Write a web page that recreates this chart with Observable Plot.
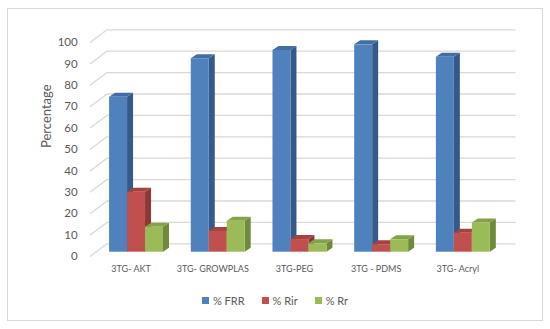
<!DOCTYPE html>
<html><head><meta charset="utf-8">
<script src="https://cdn.jsdelivr.net/npm/d3@7"></script>
<script src="https://cdn.jsdelivr.net/npm/@observablehq/plot@0.6"></script>
<style>
body{margin:0;background:#fff;font-family:Lato, sans-serif;}
#wrap{position:relative;width:550px;height:329px;overflow:hidden;background:#fff}
#frame{position:absolute;left:7px;top:8px;width:536px;height:313px;border:1.5px solid #d9d9d9;box-sizing:border-box;pointer-events:none}
#legend{display:flex;justify-content:center;align-items:center;height:30px;gap:17px;font-size:11px;color:#595959;font-family:Lato, sans-serif}
#legend span.item{display:inline-flex;align-items:center}
.sw{display:inline-block;width:7px;height:7px;margin-right:4px}
</style></head><body>
<div id="wrap"><div id="chart"></div><div id="legend"></div><div id="frame"></div></div>
<script>
const categories = ["3TG- AKT", "3TG- GROWPLAS", "3TG-PEG", "3TG - PDMS", "3TG- Acryl"];
const seriesNames = ["% FRR", "% Rir", "% Rr"];
const frrValues = [72.4, 90.4, 94.3, 96.9, 91.1];
const rirValues = [28.0, 9.7, 5.9, 3.5, 8.9];
const rrValues = [11.7, 14.5, 3.9, 5.8, 13.6];
const yTicks = [0, 10, 20, 30, 40, 50, 60, 70, 80, 90, 100];
const frontColors = ["#4f81bd", "#c0504d", "#9bbb59"];
const sideColors = ["#34598a", "#8c3836", "#6f8a3c"];
const topColors = ["#426ea6", "#a8413e", "#83a249"];

const seriesValues = [frrValues, rirValues, rrValues];
const rows = [];
categories.forEach((c, i) => seriesNames.forEach((s, j) =>
  rows.push({category: c, series: s, ci: i, sj: j, value: seriesValues[j][i]})));

const GROUP_PAD = 0.17, BAR_W = 0.22;
const barLeft = d => d.ci + GROUP_PAD + BAR_W * d.sj;
const barRight = d => barLeft(d) + BAR_W;
const DEPTH_X = 6, DEPTH_Y = 4;       // bar depth (px)
const WALL_X = 17, WALL_Y = 12.7;     // front axis to back wall (px)
const GRID = "#d9d9d9", TEXT = "#595959";

const bars = (fills, label) => Plot.rect(rows, {
  x1: barLeft, x2: barRight, y1: 0, y2: "value",
  fill: d => fills[d.sj], ariaDescription: label
});

const chart = Plot.plot({
  width: 550, height: 285,
  marginLeft: 95.2, marginRight: 46.3, marginTop: 37.7, marginBottom: 33.3,
  x: {type: "linear", domain: [0, categories.length], axis: null},
  y: {domain: [0, 100], axis: null},
  color: {type: "identity"},
  style: {fontFamily: "Lato, sans-serif", background: "transparent", overflow: "visible"},
  marks: [
    Plot.ruleY(yTicks, {stroke: GRID, strokeWidth: 1.3, dx: 11.8, dy: -8.4, ariaDescription: "wall"}),
    Plot.ruleY(yTicks, {x1: 0, x2: 0, insetLeft: -5.2, insetRight: -11.8, dy: 4.3,
      stroke: GRID, strokeWidth: 1.3, ariaDescription: "depth-tick"}),
    bars(sideColors, "side"),
    bars(topColors, "top"),
    bars(frontColors, "front"),
    Plot.text(yTicks, {x: 0, y: d => d, dx: -18, dy: 4.3, textAnchor: "end",
      fontSize: 11.5, fill: TEXT}),
    Plot.text(categories, {x: (d, i) => i + 0.5, y: 0, dx: -5.5, dy: 16.5,
      fontSize: 9, fill: TEXT}),
    Plot.text(["Percentage"], {frameAnchor: "left", rotate: -90, dx: -49.2, dy: 2.8,
      fontSize: 13, fill: TEXT})
  ]
});

// turn the depth ticks into diagonals toward the back wall
d3.select(chart).selectAll('g[aria-description="depth-tick"] line').each(function() {
  const el = d3.select(this);
  const y1 = +el.attr("y1");
  el.attr("y2", y1 - WALL_Y);
});
// turn side / top rects into parallelograms
function toPoly(label, fn) {
  d3.select(chart).selectAll(`g[aria-description="${label}"] rect`).each(function() {
    const r = d3.select(this);
    const x = +r.attr("x"), y = +r.attr("y"), w = +r.attr("width"), h = +r.attr("height");
    const p = d3.select(this.parentNode).insert("path", () => this)
      .attr("d", fn(x, y, w, h)).attr("fill", r.attr("fill"));
    if (r.attr("transform")) p.attr("transform", r.attr("transform"));
    r.remove();
  });
}
toPoly("side", (x, y, w, h) =>
  `M${x + w},${y}L${x + w + DEPTH_X},${y - DEPTH_Y}L${x + w + DEPTH_X},${y + h - DEPTH_Y}L${x + w},${y + h}Z`);
toPoly("top", (x, y, w, h) =>
  `M${x},${y}L${x + DEPTH_X},${y - DEPTH_Y}L${x + w + DEPTH_X},${y - DEPTH_Y}L${x + w},${y}Z`);

document.getElementById("chart").appendChild(chart);

const legend = d3.select("#legend");
seriesNames.forEach((s, j) => {
  const item = legend.append("span").attr("class", "item");
  item.append("span").attr("class", "sw").style("background", frontColors[j]);
  item.append("span").text(s);
});
</script>
</body></html>
